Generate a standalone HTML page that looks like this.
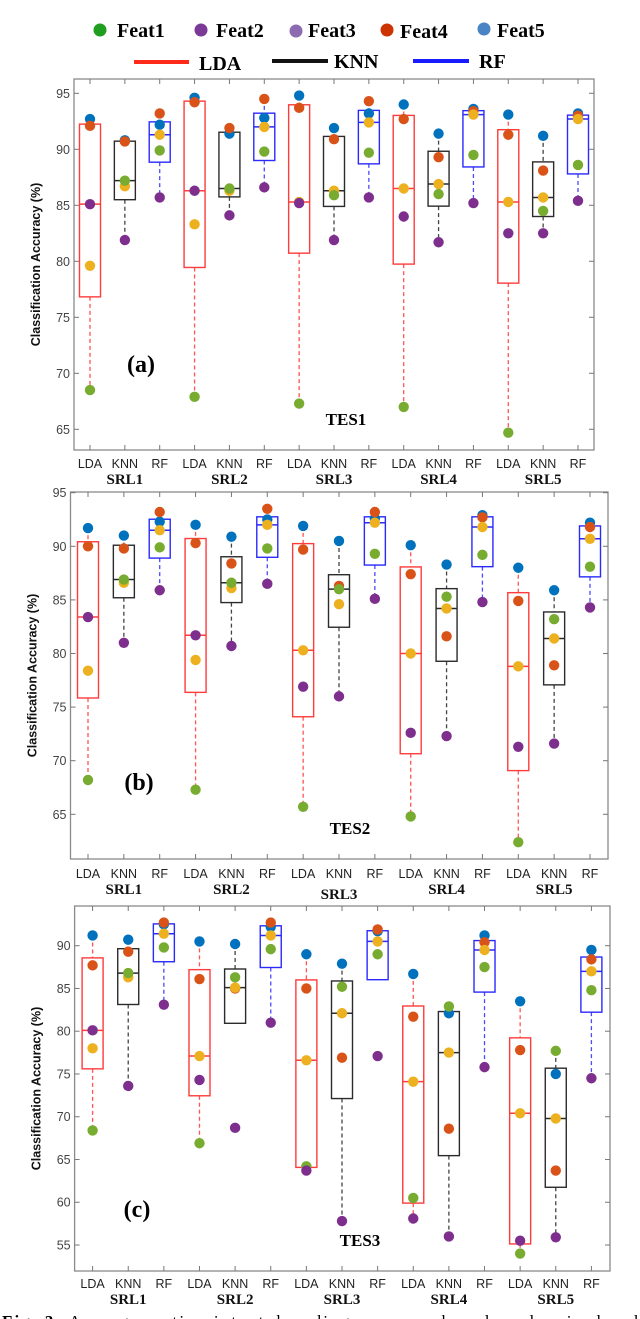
<!DOCTYPE html>
<html><head><meta charset="utf-8"><style>
html,body{margin:0;padding:0;background:#fff;}
svg{display:block;}
</style></head><body>
<svg id="fig" width="640" height="1319" viewBox="0 0 640 1319" xmlns="http://www.w3.org/2000/svg" font-family="Liberation Sans, Arial, sans-serif">
  <g font-family="Liberation Serif, serif" font-weight="bold" font-size="20">
    <g><circle cx="100" cy="30" r="6.5" fill="#1f9e1f"/><text x="117" y="37">Feat1</text></g>
    <g><circle cx="201" cy="30" r="6.5" fill="#7b3a98"/><text x="216" y="37">Feat2</text></g>
    <g><circle cx="296" cy="31" r="6.5" fill="#8d6bb0"/><text x="308" y="37">Feat3</text></g>
    <g><circle cx="387" cy="30" r="6.5" fill="#cc3300"/><text x="400" y="38">Feat4</text></g>
    <g><circle cx="484" cy="29" r="6.5" fill="#4a84c4"/><text x="497" y="37">Feat5</text></g>
    <g><line x1="134" y1="62" x2="189" y2="62" stroke="#ff2a1a" stroke-width="4"/><text x="199" y="70">LDA</text></g>
    <g><line x1="272" y1="61" x2="328" y2="61" stroke="#111" stroke-width="4"/><text x="334" y="68">KNN</text></g>
    <g><line x1="413" y1="61" x2="469" y2="61" stroke="#1a1aff" stroke-width="4"/><text x="479" y="68">RF</text></g>
  </g>
  <g id="panels"></g>
  <text x="2" y="1327" font-family="Liberation Serif, serif" font-size="17" textLength="636" lengthAdjust="spacing"><tspan font-weight="bold">Fig. 3:</tspan> Average motion intent decoding accuracy based on denoised and</text>
</svg>
<script>
// Series order per group: Feat5(blue), Feat4(red), Feat3(yellow), Feat1(green), Feat2(purple)
const categories = ["LDA","KNN","RF","LDA","KNN","RF","LDA","KNN","RF","LDA","KNN","RF","LDA","KNN","RF"];
const groupLabels = ["SRL1","SRL2","SRL3","SRL4","SRL5"];
const ticksA = [65,70,75,80,85,90,95];
const ticksB = [65,70,75,80,85,90,95];
const ticksC = [55,60,65,70,75,80,85,90];
const blueA   = [92.7,90.8,92.2,94.6,91.4,92.8,94.8,91.9,93.2,94.0,91.4,93.6,93.1,91.2,93.2];
const redA    = [92.1,90.7,93.2,94.2,91.9,94.5,93.7,90.9,94.3,92.7,89.3,93.4,91.3,88.1,93.0];
const yellowA = [79.6,86.7,91.3,83.3,86.3,92.0,85.3,86.3,92.4,86.5,86.9,93.1,85.3,85.7,92.7];
const greenA  = [68.5,87.2,89.9,67.9,86.5,89.8,67.3,85.9,89.7,67.0,86.0,89.5,64.7,84.5,88.6];
const purpleA = [85.1,81.9,85.7,86.3,84.1,86.6,85.2,81.9,85.7,84.0,81.7,85.2,82.5,82.5,85.4];
const blueB   = [91.7,91.0,92.3,92.0,90.9,92.5,91.9,90.5,92.6,90.1,88.3,92.9,88.0,85.9,92.2];
const redB    = [90.0,89.8,93.2,90.3,88.4,93.5,89.7,86.3,93.2,87.4,81.6,92.7,84.9,78.9,91.8];
const yellowB = [78.4,86.6,91.5,79.4,86.1,92.0,80.3,84.6,92.2,80.0,84.2,91.8,78.8,81.4,90.7];
const greenB  = [68.2,86.9,89.9,67.3,86.6,89.8,65.7,86.0,89.3,64.8,85.3,89.2,62.4,83.2,88.1];
const purpleB = [83.4,81.0,85.9,81.7,80.7,86.5,76.9,76.0,85.1,72.6,72.3,84.8,71.3,71.6,84.3];
const blueC   = [91.2,90.7,92.5,90.5,90.2,92.2,89.0,87.9,91.7,86.7,82.1,91.2,83.5,75.0,89.5];
const redC    = [87.7,89.3,92.7,86.1,85.0,92.7,85.0,76.9,91.9,81.7,68.6,90.4,77.8,63.7,88.4];
const yellowC = [78.0,86.3,91.4,77.1,85.1,91.2,76.6,82.1,90.5,74.1,77.5,89.5,70.4,69.8,87.0];
const greenC  = [68.4,86.8,89.8,66.9,86.3,89.6,64.2,85.2,89.0,60.5,82.9,87.5,54.0,77.7,84.8];
const purpleC = [80.1,73.6,83.1,74.3,68.7,81.0,63.7,57.8,77.1,58.1,56.0,75.8,55.5,55.9,74.5];

const NS="http://www.w3.org/2000/svg";
const dotColors=["#0072BD","#D95319","#EDB120","#77AC30","#7E2F8E"];
const dotNames=["feat5","feat4","feat3","feat1","feat2"];
const boxColors={LDA:"#ff3b3b",KNN:"#2b2b2b",RF:"#2a2aff"};
const whiskColors={LDA:"#ff5555",KNN:"#444",RF:"#4a4aff"};
function mk(tag,attrs,parent){const e=document.createElementNS(NS,tag);for(const k in attrs)e.setAttribute(k,attrs[k]);parent.appendChild(e);return e;}
function pct(s,p){const n=s.length;const pos=p*n-0.5;if(pos<=0)return s[0];if(pos>=n-1)return s[n-1];const i=Math.floor(pos);return s[i]+(pos-i)*(s[i+1]-s[i]);}

const panels=[
 {id:"a",series:[blueA,redA,yellowA,greenA,purpleA],ticks:ticksA,L:74,R:594,T:79,B:450,v0:95,y0:93.3,v1:65,y1:429.3,x0:90,x1:578,tickY:468,grpY:484,tag:"(a)",tagX:141,tagY:372,tes:"TES1",tesX:346,tesY:425,grpDy:[0,0,0,0,0]},
 {id:"b",series:[blueB,redB,yellowB,greenB,purpleB],ticks:ticksB,L:70.5,R:608,T:492,B:859,v0:95,y0:492.7,v1:65,y1:814.3,x0:88,x1:590,tickY:878,grpY:894,tag:"(b)",tagX:139,tagY:790,tes:"TES2",tesX:350,tesY:834,grpDy:[0,0,5,0,0]},
 {id:"c",series:[blueC,redC,yellowC,greenC,purpleC],ticks:ticksC,L:74.6,R:610,T:906,B:1271,v0:90,y0:945.7,v1:55,y1:1245,x0:92.6,x1:591.4,tickY:1288,grpY:1304,tag:"(c)",tagX:137,tagY:1217,tes:"TES3",tesX:360,tesY:1246,grpDy:[0,0,0,0,0]}
];
const root=document.getElementById("panels");
panels.forEach(P=>{
  const g=mk("g",{},root);
  
  
  const ys=v=>P.y0+(v-P.v0)*(P.y1-P.y0)/(P.v1-P.v0);
  const xs=i=>P.x0+i*(P.x1-P.x0)/(categories.length-1);
  const frame=mk("rect",{x:P.L,y:P.T,width:P.R-P.L,height:P.B-P.T,fill:"none",stroke:"#8a8a8a","stroke-width":1.3},g);
  
  
  P.ticks.forEach(t=>{
    const y=ys(t);
    mk("line",{x1:P.L,y1:y,x2:P.L+5,y2:y,stroke:"#777"},g);
    mk("line",{x1:P.R-5,y1:y,x2:P.R,y2:y,stroke:"#777"},g);
    const tl=mk("text",{x:P.L-4,y:y+4.5,"text-anchor":"end","font-size":12.5,fill:"#444"},g);
    tl.textContent=t;
    
    
  });
  const yt=mk("text",{x:0,y:0,transform:`translate(${P.L-34},${(P.T+P.B)/2}) rotate(-90)`,"text-anchor":"middle","font-size":12.5,"font-weight":"bold",fill:"#111"},g);
  yt.textContent="Classification Accuracy (%)";
  
  
  categories.forEach((c,i)=>{
    const x=xs(i);
    mk("line",{x1:x,y1:P.B,x2:x,y2:P.B-5,stroke:"#777"},g);
    mk("line",{x1:x,y1:P.T,x2:x,y2:P.T+5,stroke:"#777"},g);
    const tl=mk("text",{x:x,y:P.tickY,"text-anchor":"middle","font-size":12.5,fill:"#222"},g);
    tl.textContent=c;
    
    
    const vals=P.series.map(s=>s[i]);
    const s=[...vals].sort((a,b)=>a-b);
    const q1=pct(s,0.25),q3=pct(s,0.75),med=pct(s,0.5),iqr=q3-q1;
    const lo=Math.min(...s.filter(v=>v>=q1-1.5*iqr)),hi=Math.max(...s.filter(v=>v<=q3+1.5*iqr));
    const bg=mk("g",{},g);
    
    
    const col=boxColors[c],wc=whiskColors[c],w=21;
    if(hi>q3)mk("line",{x1:x,y1:ys(hi),x2:x,y2:ys(q3),stroke:wc,"stroke-dasharray":"4,3","stroke-width":1.3},bg);
    if(lo<q1)mk("line",{x1:x,y1:ys(q1),x2:x,y2:ys(lo),stroke:wc,"stroke-dasharray":"4,3","stroke-width":1.3},bg);
    mk("rect",{x:x-w/2,y:ys(q3),width:w,height:ys(q1)-ys(q3),fill:"none",stroke:col,"stroke-width":1.4},bg);
    mk("line",{x1:x-w/2,y1:ys(med),x2:x+w/2,y2:ys(med),stroke:col,"stroke-width":1.5},bg);
    vals.forEach((v,k)=>{
      const d=mk("ellipse",{cx:x,cy:ys(v),rx:5.2,ry:5.2,fill:dotColors[k]},bg);
      
      
    });
  });
  groupLabels.forEach((lab,j)=>{
    const t=mk("text",{x:xs(j*3+1),y:P.grpY+P.grpDy[j],"text-anchor":"middle","font-size":15,"font-weight":"bold","font-family":"Liberation Serif, serif",fill:"#111"},g);
    t.textContent=lab;
    
    
  });
  const tg=mk("text",{x:P.tagX,y:P.tagY,"text-anchor":"middle","font-size":24,"font-weight":"bold","font-family":"Liberation Serif, serif"},g);
  tg.textContent=P.tag;
  
  
  const ts=mk("text",{x:P.tesX,y:P.tesY,"text-anchor":"middle","font-size":17,"font-weight":"bold","font-family":"Liberation Serif, serif"},g);
  ts.textContent=P.tes;
  
  
});
</script>
</body></html>
